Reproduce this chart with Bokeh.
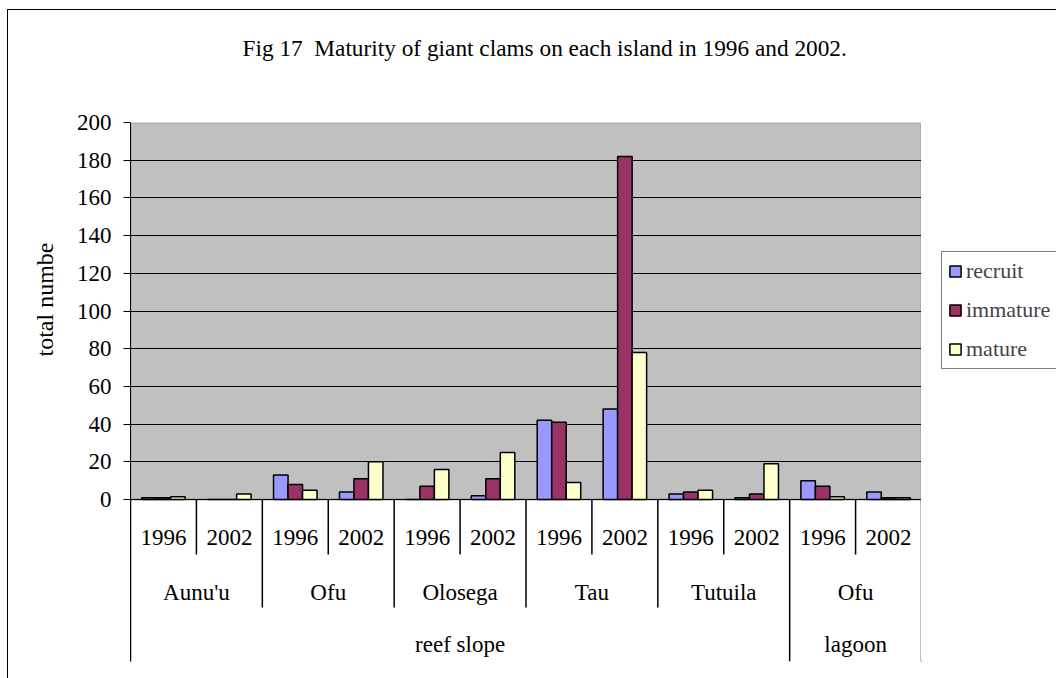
from bokeh.plotting import figure
from bokeh.layouts import row
from bokeh.models import (ColumnDataSource, FactorRange, Range1d, FixedTicker, BoxAnnotation,
                          Legend, LegendItem, Title)
from bokeh.transform import dodge
from bokeh.core.properties import value
from bokeh.embed import file_html
from bokeh.resources import INLINE

# ---- data ----
regions = ["reef slope"] * 10 + ["lagoon"] * 2
islands = ["Aunu'u", "Aunu'u", "Ofu", "Ofu", "Olosega", "Olosega",
           "Tau", "Tau", "Tutuila", "Tutuila", "Ofu", "Ofu"]
years = ["1996", "2002"] * 6
recruit = [1, 0, 13, 4, 0, 2, 42, 48, 3, 1, 10, 4]
immature = [1, 0, 8, 11, 7, 11, 41, 182, 4, 3, 7, 1]
mature = [1.5, 3, 5, 20, 16, 25, 9, 78, 5, 19, 1.5, 1]
series_names = ["recruit", "immature", "mature"]
series_colors = ["#9999FF", "#993366", "#FFFFCC"]
y_ticks = list(range(0, 201, 20))

title_text = "Fig 17\u00a0 Maturity of giant clams on each island in 1996 and 2002."
y_label = "total numbe"

FONT = "Liberation Serif"
FS = "23px"

# layout of the multi-level category axis (in y data units below zero)
Y_BOTTOM = -85.9
Y_YEAR_TXT, Y_ISL_TXT, Y_REG_TXT = -20.2, -49.3, -77.0
Y_YEAR_SEP, Y_ISL_SEP, Y_REG_SEP = -29.2, -57.3, Y_BOTTOM

factors = list(zip(regions, islands, years))

p = figure(x_range=FactorRange(*factors, factor_padding=0, subgroup_padding=0,
                               group_padding=0, range_padding=0),
           y_range=Range1d(Y_BOTTOM, 200),
           width=913, height=668, output_backend="svg", toolbar_location=None,
           min_border_left=122, min_border_right=0, min_border_top=112,
           min_border_bottom=17)

p.outline_line_color = None
p.xaxis.visible = False
p.xgrid.visible = False
p.background_fill_color = "white"
p.border_fill_color = "white"

p.ygrid.ticker = FixedTicker(ticks=y_ticks[:-1])
p.ygrid.grid_line_color = "black"
p.ygrid.grid_line_width = 1

ax = p.yaxis[0]
ax.ticker = FixedTicker(ticks=y_ticks)
ax.major_tick_out = 7
ax.major_tick_in = 0
ax.minor_tick_line_color = None
ax.axis_line_color = "black"
ax.major_tick_line_color = "black"
ax.major_label_text_font = FONT
ax.major_label_text_font_size = FS
ax.major_label_text_color = "black"
ax.major_label_standoff = 12

# plot area background
p.add_layout(BoxAnnotation(bottom=0, top=200, fill_color="#C0C0C0", fill_alpha=1,
                           line_color="#808080", line_width=3, level="image"))

src = ColumnDataSource(dict(x=factors, recruit=recruit, immature=immature, mature=mature))
offsets = [-0.22, 0.0, 0.22]
for name, color, off in zip(series_names, series_colors, offsets):
    p.vbar(x=dodge("x", off, range=p.x_range), top=name, width=0.22, source=src,
           fill_color=color, line_color="black", line_width=1.5)

# category labels
txt_kw = dict(text_font=value(FONT), text_font_size=value(FS), text_align="center",
              text_baseline="middle", text_color="black")
p.text(x=factors, y=[Y_YEAR_TXT] * len(factors), text=years, **txt_kw)
isl_keys = []
for rg, isl in zip(regions, islands):
    if (rg, isl) not in isl_keys:
        isl_keys.append((rg, isl))
p.text(x=isl_keys, y=[Y_ISL_TXT] * len(isl_keys), text=[k[1] for k in isl_keys], **txt_kw)
reg_keys = []
for rg in regions:
    if rg not in reg_keys:
        reg_keys.append(rg)
p.text(x=reg_keys, y=[Y_REG_TXT] * len(reg_keys), text=reg_keys, **txt_kw)

# separators
sx, sy = [0, len(factors)], [Y_REG_SEP, Y_REG_SEP]
for i in range(1, len(factors)):
    sx.append(i)
    if regions[i] != regions[i - 1]:
        sy.append(Y_REG_SEP)
    elif islands[i] != islands[i - 1]:
        sy.append(Y_ISL_SEP)
    else:
        sy.append(Y_YEAR_SEP)
p.segment(x0=sx, y0=[0] * len(sx), x1=sx, y1=sy, line_color="black", line_width=1.5)

# title (with a blank spacer panel between it and the plot) and y label
p.add_layout(Title(text="\u00a0", standoff=59, text_font_size="1px"), "above")
p.add_layout(Title(text=title_text, align="left", offset=112, standoff=0,
                   text_font=FONT, text_font_size="23.3px", text_font_style="normal",
                   text_color="black"), "above")
p.add_layout(Title(text=y_label, align="right", offset=120, standoff=32,
                   text_font=FONT, text_font_size="24px", text_font_style="normal",
                   text_color="black"), "left")

# legend in a side figure
lf = figure(width=135, height=668, output_backend="svg", toolbar_location=None,
            x_range=Range1d(0, 1), y_range=Range1d(0, 1),
            min_border_left=0, min_border_right=0, min_border_top=0, min_border_bottom=0)
lf.axis.visible = False
lf.grid.visible = False
lf.outline_line_color = None
lf.background_fill_color = "white"
lf.border_fill_color = "white"
items = []
for name, color in zip(series_names, series_colors):
    r = lf.vbar(x=[-10], top=[0], width=0.2, fill_color=color, line_color="black",
                line_width=1.5)
    items.append(LegendItem(label=name, renderers=[r]))
legend = Legend(items=items, location=(20, 292), border_line_color="black",
                border_line_width=1, background_fill_color="white", background_fill_alpha=1,
                label_text_font=FONT, label_text_font_size="22px",
                glyph_width=14, glyph_height=14, label_standoff=4, padding=6,
                spacing=13, label_height=22, margin=0)
lf.add_layout(legend)

layout = row(p, lf, spacing=0,
             styles={"border-left": "1px solid black", "border-top": "1px solid black",
                     "margin-left": "7px", "margin-top": "9px"})

open("out.html", "w").write(file_html(layout, INLINE))
